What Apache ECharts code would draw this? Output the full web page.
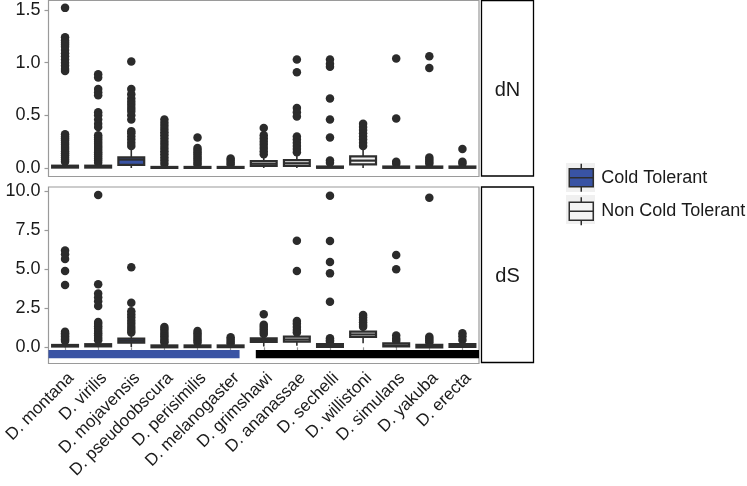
<!DOCTYPE html>
<html><head><meta charset="utf-8">
<script src="https://cdn.jsdelivr.net/npm/echarts@6/dist/echarts.min.js"></script>
<style>html,body{margin:0;padding:0;background:#fff}#c{width:747px;height:486px}</style>
</head><body><div id="c"></div>
<script>
// ---------- DATA ----------
const species = ['D. montana','D. virilis','D. mojavensis','D. pseudoobscura','D. perisimilis','D. melanogaster','D. grimshawi','D. ananassae','D. sechelli','D. willistoni','D. simulans','D. yakuba','D. erecta'];
const tolerance = ['Cold','Cold','Cold','Cold','Cold','Cold','Non','Non','Non','Non','Non','Non','Non'];
const groupNames = {Cold: 'Cold Tolerant', Non: 'Non Cold Tolerant'};

// box statistics: [lower whisker, Q1, median, Q3, upper whisker]
const dNBoxes = [
  [0, 0.004, 0.012, 0.022, 0.05],
  [0, 0.004, 0.012, 0.022, 0.05],
  [0, 0.03, 0.08, 0.10, 0.2],
  [0, 0.001, 0.004, 0.01, 0.02],
  [0, 0.001, 0.004, 0.01, 0.02],
  [0, 0.001, 0.004, 0.01, 0.02],
  [0, 0.02, 0.04, 0.065, 0.13],
  [0, 0.02, 0.045, 0.075, 0.14],
  [0, 0.002, 0.006, 0.014, 0.03],
  [0, 0.035, 0.07, 0.11, 0.2],
  [0, 0.002, 0.006, 0.014, 0.03],
  [0, 0.002, 0.006, 0.014, 0.03],
  [0, 0.002, 0.006, 0.014, 0.03]
];
const dSBoxes = [
  [0, 0.05, 0.1, 0.15, 0.35],
  [0, 0.06, 0.12, 0.2, 0.4],
  [0.02, 0.3, 0.42, 0.55, 0.9],
  [0, 0.0, 0.05, 0.12, 0.25],
  [0, 0.01, 0.05, 0.12, 0.25],
  [0, 0.01, 0.05, 0.12, 0.25],
  [0.05, 0.35, 0.46, 0.58, 0.75],
  [0.1, 0.36, 0.5, 0.68, 0.9],
  [0, 0.02, 0.08, 0.2, 0.4],
  [0.26, 0.66, 0.82, 1.0, 1.3],
  [0, 0.06, 0.12, 0.25, 0.4],
  [0, 0.0, 0.06, 0.15, 0.3],
  [0, 0.02, 0.08, 0.2, 0.4]
];

// outliers per species
const dNOutliers = [
  [1.52, 1.24, 1.21, 1.19, 1.17, 1.15, 1.12, 1.09, 1.06, 1.03, 1.00, 0.97, 0.94, 0.92, 0.32, 0.30, 0.28, 0.26, 0.24, 0.22, 0.20, 0.18, 0.16, 0.14, 0.12, 0.10, 0.08, 0.06],
  [0.89, 0.86, 0.75, 0.72, 0.69, 0.53, 0.50, 0.46, 0.42, 0.39, 0.31, 0.29, 0.27, 0.25, 0.23, 0.21, 0.19, 0.17, 0.15, 0.13, 0.11, 0.09, 0.07, 0.05],
  [1.01, 0.75, 0.70, 0.66, 0.63, 0.60, 0.57, 0.54, 0.50, 0.46, 0.35, 0.33, 0.30, 0.27, 0.24, 0.21],
  [0.46, 0.43, 0.40, 0.37, 0.34, 0.31, 0.28, 0.25, 0.22, 0.19, 0.16, 0.13, 0.10, 0.07, 0.04],
  [0.29, 0.19, 0.17, 0.15, 0.13, 0.11, 0.09, 0.07, 0.05, 0.03],
  [0.09, 0.07, 0.05, 0.03],
  [0.38, 0.31, 0.28, 0.25, 0.22, 0.19, 0.16, 0.13],
  [1.03, 0.91, 0.57, 0.53, 0.49, 0.30, 0.27, 0.24, 0.21, 0.18, 0.15],
  [1.03, 0.99, 0.96, 0.66, 0.46, 0.29, 0.07, 0.05],
  [0.42, 0.39, 0.36, 0.33, 0.30, 0.27, 0.24, 0.21],
  [1.04, 0.47, 0.06, 0.04],
  [1.06, 0.95, 0.10, 0.08, 0.06, 0.04],
  [0.18, 0.06, 0.04]
];
const dSOutliers = [
  [6.2, 5.95, 5.65, 4.88, 3.99, 1.0, 0.9, 0.8, 0.7, 0.6, 0.5, 0.4],
  [9.75, 4.03, 3.45, 3.2, 2.95, 2.65, 1.62, 1.5, 1.35, 1.2, 1.05, 0.9, 0.75, 0.6, 0.45],
  [5.12, 2.85, 2.3, 2.1, 1.9, 1.7, 1.5, 1.3, 1.1, 0.95],
  [1.3, 1.15, 1.0, 0.85, 0.7, 0.55, 0.4, 0.3],
  [1.05, 0.9, 0.75, 0.6, 0.45, 0.3],
  [0.65, 0.5, 0.35, 0.25],
  [2.11, 1.45, 1.3, 1.15, 1.0, 0.85],
  [6.82, 4.88, 1.68, 1.5, 1.3, 1.1, 0.95],
  [9.7, 6.8, 5.46, 4.73, 2.92, 0.58, 0.45, 0.35],
  [2.07, 1.9, 1.75, 1.6, 1.45, 1.32],
  [5.9, 5.0, 0.75, 0.55, 0.4],
  [9.57, 0.68, 0.55, 0.42, 0.3],
  [0.9, 0.7, 0.47]
];

const dNTicks = [0, 0.5, 1.0, 1.5];
const dSTicks = [0, 2.5, 5.0, 7.5, 10.0];

// ---------- STYLE ----------
const BLUE = '#3953a4';
const LIGHT = '#f4f4f4';
const LINE = '#2e2e2e';
const FONT = '"Liberation Sans", Arial, sans-serif';
const TXT = '#1a1a1a';
const groupColors = {Cold: BLUE, Non: LIGHT};
const groupBarColors = {Cold: BLUE, Non: '#000000'};
const GROUP_BAR_Y = [-0.17, -0.70];

function boxRows(boxes, g) {
  const rows = [];
  boxes.forEach((b, i) => { if (tolerance[i] === g) rows.push([i].concat(b)); });
  return rows;
}
function outlierRows(outs) {
  const rows = [];
  outs.forEach((list, i) => list.forEach(v => rows.push([i, v])));
  return rows;
}
function groupSpans() {
  const spans = [];
  ['Cold', 'Non'].forEach((g, k) => {
    const idx = tolerance.map((t, i) => t === g ? i : -1).filter(i => i >= 0);
    spans.push([idx[0], idx[idx.length - 1], k]);
  });
  return spans;
}

function renderBox(params, api) {
  const i = api.value(0);
  const p = [1, 2, 3, 4, 5].map(d => api.coord([i, api.value(d)]));
  const bw = api.size([1, 0])[0];
  const half = bw * 0.39;
  const cx = p[0][0];
  const fill = api.visual('color');
  return {type: 'group', children: [
    {type: 'line', shape: {x1: cx, y1: p[0][1], x2: cx, y2: p[1][1]}, style: {stroke: LINE, lineWidth: 1.6}},
    {type: 'line', shape: {x1: cx, y1: p[3][1], x2: cx, y2: p[4][1]}, style: {stroke: LINE, lineWidth: 1.6}},
    {type: 'rect', shape: {x: cx - half, y: p[3][1], width: half * 2, height: p[1][1] - p[3][1]}, style: {fill: fill, stroke: LINE, lineWidth: 2.2}},
    {type: 'line', shape: {x1: cx - half, y1: p[2][1], x2: cx + half, y2: p[2][1]}, style: {stroke: LINE, lineWidth: 2.2}}
  ]};
}

function renderGroupBar(params, api) {
  const a = api.value(0), b = api.value(1), k = api.value(2);
  const g = k === 0 ? 'Cold' : 'Non';
  const bw = api.size([1, 0])[0];
  const pa = api.coord([a, GROUP_BAR_Y[0]]);
  const pb = api.coord([b, GROUP_BAR_Y[1]]);
  const left = pa[0] - bw * (a === 0 ? 0.5 : 0.24);
  const right = pb[0] + bw * (b === species.length - 1 ? 0.5 : 0.27);
  return {type: 'rect', shape: {x: left, y: pa[1], width: right - left, height: pb[1] - pa[1]}, style: {fill: groupBarColors[g]}};
}

const chart = echarts.init(document.getElementById('c'), null, {renderer: 'canvas'});

const boxSeries = [];
[[0, dNBoxes], [1, dSBoxes]].forEach(([gi, boxes]) => {
  ['Cold', 'Non'].forEach(g => {
    boxSeries.push({
      type: 'custom', name: groupNames[g], xAxisIndex: gi, yAxisIndex: gi,
      data: boxRows(boxes, g), encode: {x: 0, y: [1, 2, 3, 4, 5]},
      itemStyle: {color: groupColors[g]}, renderItem: renderBox, z: 4, silent: true
    });
  });
});

const yAxisCommon = {
  type: 'value', splitLine: {show: false}, axisLine: {show: false},
  axisTick: {show: true, length: 4, lineStyle: {color: '#999', width: 1.2}},
  axisLabel: {fontSize: 18, fontFamily: FONT, color: TXT, margin: 8, formatter: v => v.toFixed(1)}
};

const BOXICON = 'path://M12,0L12,5M0,5L24,5L24,23L0,23ZM0,14L24,14M12,23L12,28';

chart.setOption({
  animation: false,
  backgroundColor: '#fff',
  grid: [
    {left: 48.5, top: 0.5, width: 430.5, height: 176, containLabel: false, outerBoundsMode: 'none', show: true, borderColor: '#9a9a9a', borderWidth: 1.2, backgroundColor: '#fff'},
    {left: 48.5, top: 187, width: 430.5, height: 176.5, containLabel: false, outerBoundsMode: 'none', show: true, borderColor: '#9a9a9a', borderWidth: 1.2, backgroundColor: '#fff'}
  ],
  xAxis: [
    {gridIndex: 0, type: 'category', data: species, axisLine: {show: false}, axisTick: {show: false}, axisLabel: {show: false}, splitLine: {show: false}},
    {gridIndex: 1, type: 'category', data: species, axisLine: {show: false}, splitLine: {show: false},
     axisTick: {show: true, alignWithLabel: true, length: 5, lineStyle: {color: '#999', width: 1.2}},
     axisLabel: {rotate: 45, interval: 0, fontSize: 17, fontFamily: FONT, color: TXT, margin: 6, verticalAlign: 'top'}}
  ],
  yAxis: [
    Object.assign({}, yAxisCommon, {gridIndex: 0, min: -0.0807, max: 1.59,
      axisTick: Object.assign({}, yAxisCommon.axisTick, {customValues: dNTicks}),
      axisLabel: Object.assign({}, yAxisCommon.axisLabel, {customValues: dNTicks})}),
    Object.assign({}, yAxisCommon, {gridIndex: 1, min: -1.036, max: 10.256,
      axisTick: Object.assign({}, yAxisCommon.axisTick, {customValues: dSTicks}),
      axisLabel: Object.assign({}, yAxisCommon.axisLabel, {customValues: dSTicks})})
  ],
  legend: {
    orient: 'vertical', left: 568.5, top: 163, itemWidth: 24, itemHeight: 28, itemGap: 4,
    padding: 0, selectedMode: false, icon: BOXICON,
    itemStyle: {borderColor: LINE, borderWidth: 1.5},
    textStyle: {fontSize: 18, fontFamily: FONT, color: TXT, padding: [0, 0, 0, 3]},
    data: [
      {name: groupNames.Cold, itemStyle: {color: BLUE}},
      {name: groupNames.Non, itemStyle: {color: LIGHT}}
    ]
  },
  graphic: [
    {type: 'rect', z: -1, shape: {x: 566, y: 163, width: 29, height: 29}, style: {fill: '#f0f0f0'}},
    {type: 'rect', z: -1, shape: {x: 566, y: 195, width: 29, height: 29}, style: {fill: '#f0f0f0'}},
    {type: 'rect', shape: {x: 481.5, y: 0.5, width: 52, height: 175.5}, style: {fill: '#fff', stroke: '#000', lineWidth: 1.3}},
    {type: 'text', x: 507.5, y: 90, style: {text: 'dN', font: '20px ' + FONT, fill: TXT, align: 'center', verticalAlign: 'middle'}},
    {type: 'rect', shape: {x: 481.5, y: 187, width: 52, height: 175.5}, style: {fill: '#fff', stroke: '#000', lineWidth: 1.3}},
    {type: 'text', x: 507.5, y: 276.5, style: {text: 'dS', font: '20px ' + FONT, fill: TXT, align: 'center', verticalAlign: 'middle'}}
  ],
  series: [
    {type: 'custom', name: 'group', xAxisIndex: 1, yAxisIndex: 1, data: groupSpans(), encode: {x: [0, 1]}, renderItem: renderGroupBar, z: 1, silent: true},
    {type: 'scatter', name: 'dN outliers', xAxisIndex: 0, yAxisIndex: 0, data: outlierRows(dNOutliers), symbolSize: 8.5, itemStyle: {color: '#2b2b2b', opacity: 1}, z: 3, silent: true},
    {type: 'scatter', name: 'dS outliers', xAxisIndex: 1, yAxisIndex: 1, data: outlierRows(dSOutliers), symbolSize: 8.5, itemStyle: {color: '#2b2b2b', opacity: 1}, z: 3, silent: true}
  ].concat(boxSeries)
});
</script>
</body></html>
